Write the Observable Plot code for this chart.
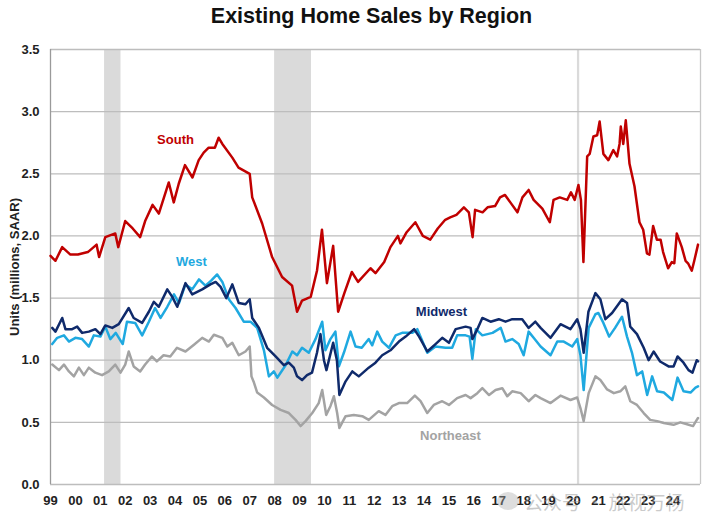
<!DOCTYPE html>
<html><head><meta charset="utf-8">
<script src="https://cdn.jsdelivr.net/npm/d3@7"></script>
<script src="https://cdn.jsdelivr.net/npm/@observablehq/plot@0.6"></script>
<style>
body{margin:0;background:#fff;font-family:"Liberation Sans",Arial,sans-serif;}
#wrap{position:relative;width:713px;height:518px;overflow:hidden;}
#title{height:33px;line-height:33px;text-align:center;font-weight:bold;font-size:21.5px;color:#111;padding-left:30px;box-sizing:border-box;}
#wm{position:absolute;left:524px;top:488px;font-family:"Noto Sans CJK SC",sans-serif;font-size:19px;color:rgba(150,150,150,0.5);white-space:nowrap;}
#wmi{position:absolute;left:497px;top:492px;width:22px;height:18px;border-radius:50%;background:rgba(170,170,170,0.4);}
</style></head><body>
<div id="wrap"><div id="title">Existing Home Sales by Region</div><div id="chart"></div><div id="wmi"></div><div id="wm">公众号 · 旅视万杨</div></div>
<script>
// [decimal year, millions SAAR]
const south = [[1999.0,1.84],[1999.2,1.80],[1999.47,1.91],[1999.8,1.85],[2000.1,1.85],[2000.5,1.87],[2000.85,1.93],[2000.95,1.83],[2001.2,1.99],[2001.6,2.02],[2001.72,1.91],[2002.0,2.12],[2002.3,2.06],[2002.6,1.99],[2002.8,2.12],[2003.1,2.25],[2003.35,2.18],[2003.75,2.43],[2003.95,2.27],[2004.15,2.42],[2004.4,2.57],[2004.7,2.47],[2004.95,2.61],[2005.15,2.67],[2005.35,2.71],[2005.6,2.71],[2005.75,2.79],[2005.9,2.74],[2006.3,2.63],[2006.55,2.55],[2007.0,2.50],[2007.1,2.31],[2007.5,2.10],[2007.9,1.83],[2008.3,1.67],[2008.7,1.60],[2008.9,1.39],[2009.1,1.48],[2009.45,1.51],[2009.7,1.72],[2009.9,2.05],[2010.1,1.62],[2010.35,1.92],[2010.55,1.39],[2010.8,1.54],[2011.1,1.71],[2011.35,1.63],[2011.85,1.74],[2012.05,1.70],[2012.4,1.79],[2012.65,1.91],[2012.95,2.00],[2013.05,1.94],[2013.3,2.03],[2013.65,2.11],[2013.95,2.00],[2014.25,1.97],[2014.55,2.06],[2014.85,2.13],[2015.05,2.15],[2015.3,2.17],[2015.6,2.23],[2015.8,2.19],[2015.95,1.99],[2016.05,2.21],[2016.35,2.19],[2016.55,2.23],[2016.85,2.24],[2017.05,2.31],[2017.25,2.33],[2017.5,2.26],[2017.75,2.19],[2017.95,2.31],[2018.2,2.37],[2018.4,2.29],[2018.75,2.22],[2019.05,2.11],[2019.2,2.29],[2019.45,2.31],[2019.75,2.29],[2019.9,2.35],[2020.05,2.29],[2020.2,2.41],[2020.3,2.29],[2020.4,1.79],[2020.55,2.64],[2020.65,2.66],[2020.8,2.80],[2020.95,2.81],[2021.05,2.92],[2021.2,2.66],[2021.4,2.61],[2021.6,2.69],[2021.75,2.64],[2021.85,2.74],[2021.9,2.88],[2022.0,2.74],[2022.1,2.93],[2022.25,2.58],[2022.45,2.40],[2022.65,2.11],[2022.8,2.05],[2022.95,1.86],[2023.05,1.85],[2023.2,2.08],[2023.35,1.97],[2023.5,1.97],[2023.6,1.87],[2023.8,1.74],[2023.95,1.79],[2024.05,1.78],[2024.15,2.02],[2024.35,1.91],[2024.5,1.80],[2024.6,1.78],[2024.75,1.72],[2024.85,1.80],[2025.0,1.93]];

const west = [[1999.07,1.13],[1999.27,1.18],[1999.54,1.20],[1999.74,1.15],[2000.0,1.18],[2000.27,1.17],[2000.54,1.11],[2000.74,1.20],[2001.0,1.19],[2001.2,1.27],[2001.4,1.17],[2001.62,1.22],[2001.9,1.13],[2002.07,1.31],[2002.4,1.30],[2002.68,1.20],[2002.95,1.31],[2003.2,1.42],[2003.42,1.34],[2003.69,1.43],[2003.96,1.53],[2004.16,1.46],[2004.42,1.61],[2004.69,1.57],[2004.96,1.65],[2005.22,1.60],[2005.45,1.64],[2005.69,1.69],[2005.9,1.63],[2006.16,1.49],[2006.43,1.42],[2006.76,1.31],[2007.03,1.31],[2007.3,1.26],[2007.57,1.08],[2007.77,0.87],[2007.97,0.91],[2008.11,0.86],[2008.44,0.96],[2008.71,1.07],[2008.9,1.04],[2009.1,1.10],[2009.37,1.06],[2009.64,1.17],[2009.91,1.31],[2010.04,1.08],[2010.24,1.17],[2010.44,1.23],[2010.58,0.95],[2010.78,1.06],[2011.05,1.23],[2011.25,1.11],[2011.5,1.10],[2011.78,1.17],[2011.92,1.12],[2012.12,1.23],[2012.32,1.15],[2012.59,1.10],[2012.86,1.20],[2013.12,1.22],[2013.52,1.22],[2013.73,1.25],[2014.13,1.06],[2014.46,1.11],[2014.86,1.10],[2015.13,1.10],[2015.33,1.20],[2015.67,1.20],[2015.83,1.19],[2015.94,1.01],[2016.08,1.25],[2016.34,1.20],[2016.75,1.22],[2017.08,1.26],[2017.27,1.15],[2017.54,1.17],[2017.8,1.13],[2018.0,1.04],[2018.2,1.23],[2018.4,1.18],[2018.68,1.11],[2019.08,1.04],[2019.35,1.15],[2019.61,1.15],[2019.95,1.11],[2020.15,1.17],[2020.28,1.04],[2020.41,0.76],[2020.61,1.26],[2020.88,1.37],[2021.0,1.38],[2021.2,1.30],[2021.43,1.19],[2021.67,1.26],[2021.95,1.35],[2022.15,1.19],[2022.35,1.06],[2022.55,0.88],[2022.76,0.91],[2022.96,0.72],[2023.16,0.87],[2023.36,0.75],[2023.63,0.74],[2023.97,0.68],[2024.18,0.86],[2024.42,0.75],[2024.7,0.74],[2024.9,0.78],[2025.0,0.79]];

const midwest = [[1999.07,1.26],[1999.2,1.23],[1999.47,1.34],[1999.6,1.25],[1999.87,1.25],[2000.07,1.27],[2000.27,1.22],[2000.54,1.23],[2000.8,1.25],[2001.0,1.21],[2001.2,1.28],[2001.48,1.26],[2001.74,1.29],[2002.14,1.42],[2002.34,1.34],[2002.68,1.30],[2002.95,1.39],[2003.15,1.47],[2003.35,1.43],[2003.69,1.57],[2003.89,1.51],[2004.09,1.43],[2004.42,1.62],[2004.69,1.53],[2005.09,1.57],[2005.42,1.61],[2005.63,1.63],[2005.83,1.59],[2006.06,1.50],[2006.3,1.61],[2006.56,1.46],[2006.83,1.45],[2007.0,1.49],[2007.1,1.34],[2007.37,1.26],[2007.7,1.10],[2008.04,1.03],[2008.37,0.96],[2008.57,0.98],[2008.77,0.94],[2008.9,0.87],[2009.1,0.84],[2009.3,0.88],[2009.5,0.90],[2009.7,1.06],[2009.84,1.21],[2009.98,1.00],[2010.08,0.92],[2010.35,1.14],[2010.5,1.00],[2010.6,0.72],[2010.85,0.83],[2011.12,0.91],[2011.38,0.87],[2011.78,0.94],[2012.05,0.98],[2012.32,1.04],[2012.65,1.08],[2012.99,1.15],[2013.26,1.19],[2013.6,1.25],[2013.8,1.19],[2014.13,1.07],[2014.46,1.13],[2014.73,1.18],[2015.0,1.14],[2015.27,1.25],[2015.67,1.27],[2015.87,1.26],[2015.94,1.17],[2016.14,1.25],[2016.34,1.34],[2016.67,1.31],[2017.0,1.33],[2017.27,1.31],[2017.54,1.33],[2017.94,1.33],[2018.2,1.26],[2018.47,1.31],[2018.68,1.26],[2019.08,1.18],[2019.48,1.29],[2019.88,1.25],[2020.15,1.33],[2020.28,1.25],[2020.41,1.06],[2020.6,1.39],[2020.88,1.54],[2021.08,1.49],[2021.28,1.33],[2021.55,1.38],[2021.95,1.49],[2022.15,1.46],[2022.28,1.27],[2022.55,1.21],[2022.82,1.10],[2023.02,1.00],[2023.22,1.07],[2023.48,0.99],[2023.82,0.95],[2024.02,0.95],[2024.18,1.03],[2024.42,0.98],[2024.62,0.92],[2024.78,0.90],[2024.95,1.00],[2025.0,0.99]];

const northeast = [[1999.07,0.965],[1999.34,0.92],[1999.54,0.965],[1999.74,0.91],[1999.94,0.87],[2000.14,0.94],[2000.34,0.88],[2000.54,0.94],[2000.8,0.90],[2001.07,0.88],[2001.34,0.91],[2001.6,0.965],[2001.81,0.90],[2002.0,0.965],[2002.14,1.07],[2002.34,0.95],[2002.6,0.91],[2002.8,0.965],[2003.07,1.03],[2003.27,0.99],[2003.54,1.04],[2003.81,1.03],[2004.08,1.10],[2004.42,1.07],[2004.76,1.125],[2005.09,1.18],[2005.36,1.15],[2005.56,1.205],[2005.9,1.18],[2006.1,1.11],[2006.3,1.14],[2006.56,1.04],[2006.83,1.07],[2007.0,1.11],[2007.07,0.87],[2007.17,0.82],[2007.3,0.74],[2007.57,0.70],[2007.9,0.64],[2008.24,0.60],[2008.57,0.575],[2008.84,0.52],[2009.04,0.47],[2009.24,0.51],[2009.51,0.575],[2009.77,0.655],[2009.91,0.76],[2010.07,0.56],[2010.24,0.63],[2010.38,0.71],[2010.51,0.575],[2010.6,0.455],[2010.85,0.55],[2011.18,0.56],[2011.52,0.55],[2011.78,0.52],[2012.18,0.59],[2012.45,0.56],[2012.72,0.63],[2012.99,0.655],[2013.32,0.655],[2013.63,0.715],[2013.86,0.67],[2014.13,0.575],[2014.39,0.64],[2014.73,0.67],[2015.0,0.64],[2015.33,0.695],[2015.67,0.72],[2015.87,0.695],[2016.14,0.735],[2016.34,0.775],[2016.61,0.72],[2016.87,0.76],[2017.14,0.775],[2017.34,0.71],[2017.54,0.75],[2017.88,0.735],[2018.2,0.67],[2018.47,0.72],[2018.68,0.695],[2019.08,0.655],[2019.48,0.715],[2019.88,0.68],[2020.15,0.70],[2020.28,0.615],[2020.41,0.51],[2020.61,0.735],[2020.88,0.87],[2021.08,0.84],[2021.35,0.765],[2021.62,0.735],[2021.88,0.75],[2022.08,0.79],[2022.28,0.67],[2022.55,0.64],[2022.82,0.575],[2023.08,0.52],[2023.36,0.51],[2023.63,0.495],[2024.02,0.48],[2024.29,0.50],[2024.56,0.485],[2024.8,0.47],[2024.95,0.52],[2025.0,0.535]];

const recessionStart = [2001.17, 2008.0, 2020.16];
const recessionEnd = [2001.83, 2009.48, 2020.25];
const yTicks = [0, 0.5, 1.0, 1.5, 2.0, 2.5, 3.0, 3.5];
const xTickYears = d3.range(1999, 2025);
const seriesNames = ["South", "West", "Midwest", "Northeast"];
const seriesColors = ["#c00000", "#1fa9e0", "#0f2a6b", "#a3a3a3"];
const labelYears = [2004.02, 2004.66, 2014.7, 2015.06];
const labelValues = [2.77, 1.79, 1.39, 0.39];

function toDate(t) {
  const y = Math.floor(t), f = t - y;
  const a = Date.UTC(y, 0, 1), b = Date.UTC(y + 1, 0, 1);
  return new Date(a + f * (b - a));
}
const seriesData = [south, west, midwest, northeast];
const rows = [];
seriesData.forEach((s, i) => s.forEach(([t, v]) => rows.push({region: seriesNames[i], date: toDate(t), value: v})));
const recessions = recessionStart.map((s, i) => ({s: toDate(s), e: toDate(recessionEnd[i])}));
const labels = seriesNames.map((n, i) => ({name: n, date: toDate(labelYears[i]), value: labelValues[i], color: seriesColors[i]}));
const x0 = toDate(1999.0), x1 = toDate(2025.1);

const chart = Plot.plot({
  width: 713, height: 485,
  marginLeft: 50, marginRight: 13, marginTop: 16, marginBottom: 34,
  style: {fontFamily: "'Liberation Sans', Arial, sans-serif", fontSize: "13px", fontWeight: "bold", color: "#222", background: "#fff"},
  x: {type: "utc", domain: [x0, x1]},
  y: {domain: [0, 3.5]},
  color: {domain: seriesNames, range: seriesColors},
  marks: [
    Plot.rect(recessions, {x1: "s", x2: "e", fill: "#dadada"}),
    Plot.ruleY(yTicks, {stroke: "#bdbdbd", strokeWidth: 1.3}),
    Plot.ruleX([x0], {stroke: "#9a9a9a", strokeWidth: 1.3}),
    Plot.ruleX([x1], {stroke: "#c8c8c8", strokeWidth: 1.3}),
    Plot.line(rows, {x: "date", y: "value", z: "region", stroke: "region", strokeWidth: 2.5, strokeLinejoin: "round"}),
    Plot.text(labels, {x: "date", y: "value", text: "name", fill: "color", fontSize: 13, fontWeight: "bold"}),
    Plot.axisY({ticks: yTicks, tickFormat: d3.format(".1f"), tickSize: 0, tickPadding: 11, label: "Units (millions, SAAR)", labelAnchor: "center", labelArrow: "none", labelOffset: 41, fontSize: 13}),
    Plot.axisX({ticks: xTickYears.map(y => toDate(y)), tickFormat: d3.utcFormat("%y"), tickSize: 0, tickPadding: 11, label: null, fontSize: 13})
  ]
});
document.getElementById("chart").appendChild(chart);
</script>
</body></html>
